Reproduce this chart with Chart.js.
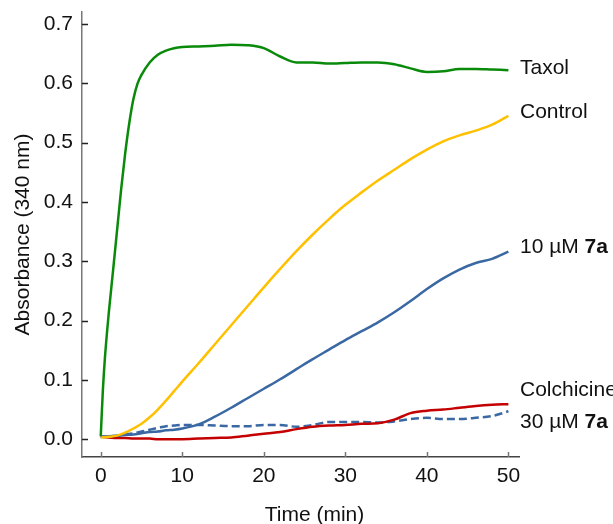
<!DOCTYPE html>
<html>
<head>
<meta charset="utf-8">
<script src="https://cdn.jsdelivr.net/npm/chart.js@4"></script>
<style>
  body { margin: 0; background: #fff; }
  #wrap { width: 613px; height: 524px; position: relative; }
</style>
</head>
<body>
<div id="wrap"><canvas id="chart"></canvas></div>
<script>
// Time points (min)
const taxolTime = [0, 0.25, 0.5, 1, 1.5, 2, 2.5, 3, 3.5, 4, 4.5, 5, 6, 7, 8, 9, 10,
  12, 14, 16, 18, 20, 22, 24, 26, 28, 30, 32, 34, 36, 38, 40, 42, 44, 46, 48, 50];
const time = [0, 1, 2, 3, 4, 5, 6, 7, 8, 9, 10,
  12, 14, 16, 18, 20, 22, 24, 26, 28, 30, 32, 34, 36, 38, 40, 42, 44, 46, 48, 50];

// Absorbance at 340 nm
const taxol = [0.005, 0.08, 0.135, 0.215, 0.283, 0.352, 0.421, 0.482, 0.533, 0.573, 0.599, 0.614, 0.635, 0.648, 0.655, 0.659, 0.661,
  0.662, 0.663, 0.665, 0.664, 0.659, 0.645, 0.635, 0.635, 0.633, 0.634, 0.635, 0.635, 0.632, 0.625, 0.619, 0.620, 0.624, 0.624, 0.623, 0.622];
const control = [0.003, 0.004, 0.006, 0.011, 0.018, 0.026, 0.037, 0.050, 0.065, 0.081, 0.097,
  0.128, 0.160, 0.192, 0.224, 0.256, 0.287, 0.317, 0.345, 0.371, 0.395, 0.416, 0.436, 0.454, 0.472, 0.488, 0.502, 0.512, 0.520, 0.530, 0.545];
const cpd10 = [0.004, 0.005, 0.006, 0.007, 0.008, 0.010, 0.012, 0.013, 0.015, 0.016, 0.018,
  0.025, 0.038, 0.053, 0.069, 0.085, 0.101, 0.118, 0.135, 0.151, 0.167, 0.182, 0.197, 0.214, 0.233, 0.253, 0.271, 0.286, 0.297, 0.304, 0.316];
const colchicine = [0.004, 0.003, 0.002, 0.002, 0.001, 0.001, 0.001, 0.000, 0.000, 0.000, 0.000,
  0.001, 0.002, 0.003, 0.006, 0.009, 0.012, 0.017, 0.021, 0.023, 0.024, 0.026, 0.027, 0.033, 0.044, 0.048, 0.050, 0.053, 0.056, 0.058, 0.059];
const cpd30 = [0.004, 0.005, 0.006, 0.008, 0.010, 0.013, 0.016, 0.019, 0.022, 0.023, 0.024,
  0.024, 0.023, 0.022, 0.022, 0.024, 0.024, 0.021, 0.024, 0.029, 0.029, 0.029, 0.028, 0.030, 0.034, 0.036, 0.034, 0.034, 0.036, 0.039, 0.047];

const xTicks = [0, 10, 20, 30, 40, 50];
const yTicks = [0, 0.1, 0.2, 0.3, 0.4, 0.5, 0.6, 0.7];

const FONT = '"Liberation Sans", Arial, sans-serif';
const FSIZE = 21;

function toPoints(xs, ys) {
  return xs.map((x, i) => ({ x: x, y: ys[i] }));
}

function series(label, xs, ys, color, dash, labelDy) {
  return {
    label: label,
    data: toPoints(xs, ys),
    borderColor: color,
    borderWidth: 2.5,
    borderDash: dash || [],
    pointRadius: 0,
    cubicInterpolationMode: 'monotone',
    fill: false,
    labelDy: labelDy
  };
}

// Draw inward tick marks, axis titles and line-end labels
const decorations = {
  id: 'decorations',
  afterDraw(chart) {
    const ctx = chart.ctx;
    const xs = chart.scales.x;
    const ys = chart.scales.y;
    const area = chart.chartArea;

    ctx.save();
    ctx.lineWidth = 1.5;
    ctx.strokeStyle = '#777';
    xTicks.forEach(v => {
      const px = Math.round(xs.getPixelForValue(v)) + 0.5;
      ctx.beginPath();
      ctx.moveTo(px, area.bottom);
      ctx.lineTo(px, area.bottom - 5);
      ctx.stroke();
    });
    ctx.strokeStyle = '#222';
    yTicks.forEach(v => {
      const py = Math.round(ys.getPixelForValue(v)) + 0.5;
      ctx.beginPath();
      ctx.moveTo(area.left, py);
      ctx.lineTo(area.left + 6, py);
      ctx.stroke();
    });

    // axis titles
    ctx.fillStyle = '#111';
    ctx.font = FSIZE + 'px ' + FONT;
    ctx.textAlign = 'center';
    ctx.textBaseline = 'middle';
    ctx.fillText('Time (min)', chart.width / 2 + 8, 515);
    ctx.save();
    ctx.translate(23, (area.top + area.bottom) / 2);
    ctx.rotate(-Math.PI / 2);
    ctx.fillText('Absorbance (340 nm)', 0, 0);
    ctx.restore();

    // labels at line ends
    ctx.textAlign = 'left';
    chart.data.datasets.forEach((ds, i) => {
      const pts = chart.getDatasetMeta(i).data;
      const last = pts[pts.length - 1];
      const x = area.right + 1;
      const y = last.y + ds.labelDy;
      const parts = ds.label.split('|');
      ctx.font = FSIZE + 'px ' + FONT;
      ctx.fillText(parts[0], x, y);
      if (parts[1]) {
        const w = ctx.measureText(parts[0]).width;
        ctx.font = 'bold ' + FSIZE + 'px ' + FONT;
        ctx.fillText(parts[1], x + w, y);
      }
    });
    ctx.restore();
  }
};

new Chart(document.getElementById('chart'), {
  type: 'line',
  data: {
    datasets: [
      series('Taxol', taxolTime, taxol, '#0a8a0a', null, -2),
      series('Control', time, control, '#ffc000', null, -4),
      series('10 \u00b5M |7a', time, cpd10, '#3a68a3', null, -5),
      series('Colchicine', time, colchicine, '#c40000', null, -14),
      series('30 \u00b5M |7a', time, cpd30, '#3a68a3', [8, 4], 11)
    ]
  },
  options: {
    responsive: true,
    maintainAspectRatio: false,
    animation: false,
    layout: { padding: { top: 12, right: 94, left: 0, bottom: 0 } },
    plugins: {
      legend: { display: false },
      tooltip: { enabled: false }
    },
    scales: {
      x: {
        type: 'linear',
        min: -2.3,
        max: 51.3,
        afterBuildTicks: s => { s.ticks = xTicks.map(v => ({ value: v })); },
        afterFit: s => { s.height = 67; s.paddingLeft = 0; s.paddingRight = 0; },
        grid: { display: false, drawTicks: false },
        border: { display: true, color: '#444', width: 1.5 },
        ticks: {
          padding: 7,
          color: '#111',
          font: { family: FONT, size: FSIZE }
        }
      },
      y: {
        type: 'linear',
        min: -0.03,
        max: 0.72,
        afterBuildTicks: s => { s.ticks = yTicks.map(v => ({ value: v })); },
        afterFit: s => { s.width = 82; s.paddingTop = 0; s.paddingBottom = 0; },
        grid: { display: false, drawTicks: false },
        border: { display: true, color: '#777', width: 1.5 },
        ticks: {
          padding: 9,
          color: '#111',
          font: { family: FONT, size: FSIZE },
          callback: v => v.toFixed(1)
        }
      }
    }
  },
  plugins: [decorations]
});
</script>
</body>
</html>
